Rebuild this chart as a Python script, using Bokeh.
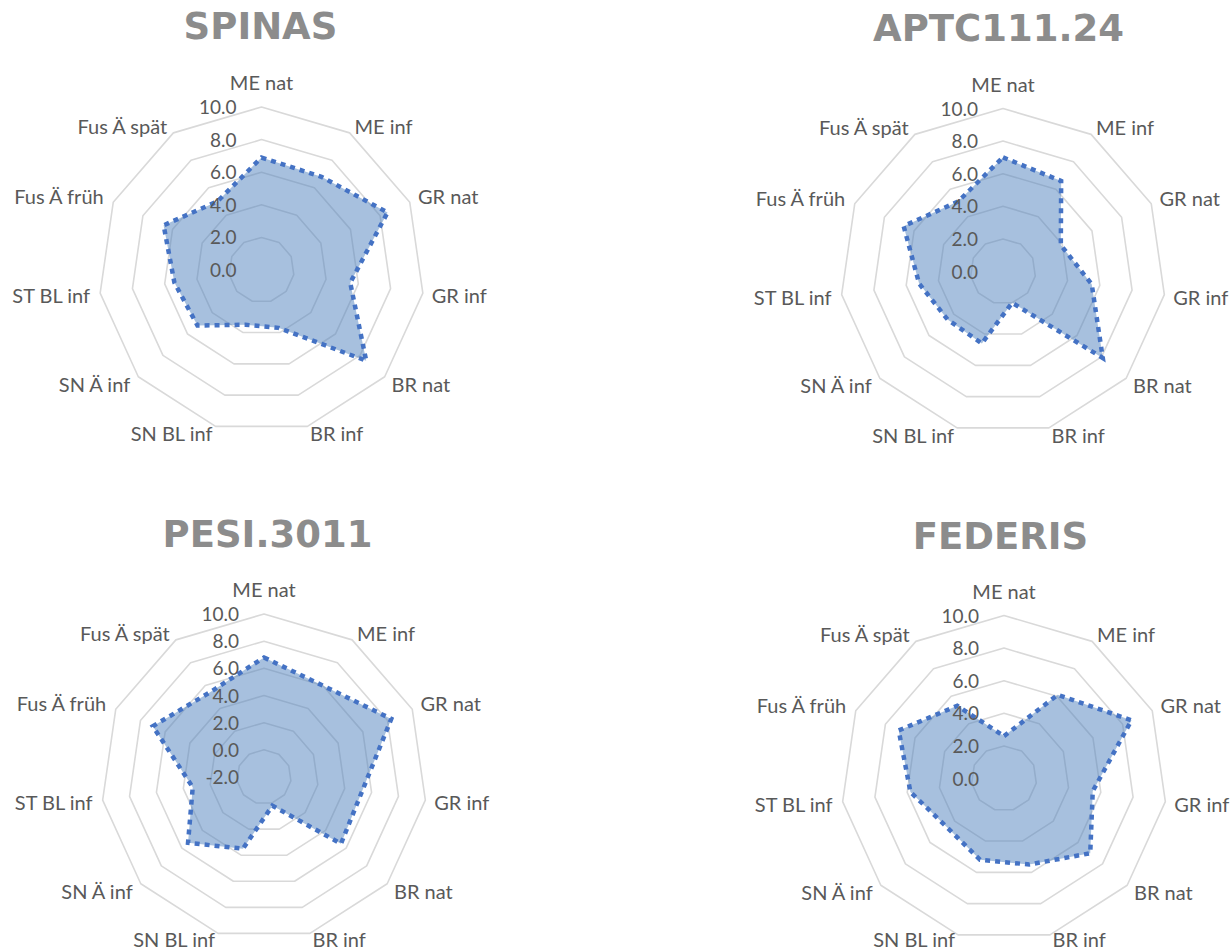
import math
from bokeh.plotting import figure
from bokeh.models import Range1d, ColumnDataSource
from bokeh.embed import file_html
from bokeh.resources import INLINE
from bokeh.core.properties import value

# ---------------- data ----------------
categories = ["ME nat", "ME inf", "GR nat", "GR inf", "BR nat", "BR inf",
              "SN BL inf", "SN Ä inf", "ST BL inf", "Fus Ä früh", "Fus Ä spät"]

titles = ["SPINAS", "APTC111.24", "PESI.3011", "FEDERIS"]

spinas = [6.9, 6.8, 8.5, 5.5, 8.5, 3.7, 3.5, 5.2, 5.4, 6.6, 5.0]
aptc = [7.0, 6.6, 3.9, 5.5, 8.1, 2.0, 4.6, 4.5, 5.2, 6.7, 5.1]
pesi = [6.8, 6.0, 8.3, 5.3, 5.5, 0.2, 3.5, 5.4, 3.3, 7.0, 5.4]
federis = [2.6, 6.1, 8.6, 5.5, 7.0, 5.5, 5.2, 4.6, 5.8, 7.1, 5.3]

series = [spinas, aptc, pesi, federis]
axis_min = [0.0, 0.0, -2.0, 0.0]
axis_max = [10.0, 10.0, 10.0, 10.0]
axis_step = 2.0

# ---------------- layout (page pixels) ----------------
W, H = 1231, 952
centers = [(261.0, 269.5), (1002.5, 271.0), (263.5, 776.5), (1003.5, 778.0)]
radius = 163.0
title_pos = [(260, 26), (998, 28), (267, 534), (1000, 536)]

GRID = "#d9d9d9"
TXT = "#595959"
TITLE = "#8c8c8c"
LINE = "#4472C4"
FILL = "#4F81BD"
FONT = "Lato"

p = figure(width=W, height=H, x_range=Range1d(0, W), y_range=Range1d(H, 0),
           output_backend="svg", toolbar_location=None,
           x_axis_location=None, y_axis_location=None, min_border=0)
p.outline_line_color = None
p.xgrid.visible = False
p.ygrid.visible = False
p.background_fill_color = "white"

n = len(categories)
angles = [2 * math.pi * i / n for i in range(n)]


def pt(c, r, a):
    return c[0] + r * math.sin(a), c[1] - r * math.cos(a)


for k in range(4):
    c = centers[k]
    vmin, vmax = axis_min[k], axis_max[k]
    span = vmax - vmin

    def rad(v):
        return (v - vmin) / span * radius

    # rings
    ticks = []
    t = vmin
    while t <= vmax + 1e-9:
        ticks.append(round(t, 6))
        t += axis_step
    ring_xs, ring_ys = [], []
    for tv in ticks:
        if tv == vmin:
            continue
        r = rad(tv)
        pts = [pt(c, r, a) for a in angles]
        ring_xs.append([q[0] for q in pts])
        ring_ys.append([q[1] for q in pts])
    p.patches(xs=ring_xs, ys=ring_ys, fill_color=None, line_color=GRID, line_width=1.6)

    # data polygon
    vals = series[k]
    dpts = [pt(c, rad(v), a) for v, a in zip(vals, angles)]
    src = ColumnDataSource(dict(x=[q[0] for q in dpts], y=[q[1] for q in dpts]))
    p.patch(x="x", y="y", source=src, fill_color=FILL, fill_alpha=0.5,
            line_color=LINE, line_width=4.5, line_dash="5 5", line_join="miter")

    # tick labels
    tx = [c[0] - 25] * len(ticks)
    ty = [c[1] - rad(tv) for tv in ticks]
    tl = ["%.1f" % tv for tv in ticks]
    p.text(x=tx, y=ty, text=tl, text_font=value(FONT), text_font_size="19px",
           text_color=TXT, text_align="right", text_baseline="middle")

    # category labels (placed just outside the outer ring vertex)
    groups = {}
    for cat, a in zip(categories, angles):
        sx, cx_ = math.sin(a), math.cos(a)
        vx, vy = pt(c, radius, a)
        if abs(sx) < 0.05:
            key = ("center", "bottom")
            lx, ly = vx, vy - 13
        else:
            key = ("left", "middle") if sx > 0 else ("right", "middle")
            lx = vx + 9 * sx
            ly = vy - 7 * max(-1.0, min(1.0, 2 * cx_))
            ly = min(ly, H - 14)
        groups.setdefault(key, ([], [], []))
        groups[key][0].append(lx)
        groups[key][1].append(ly)
        groups[key][2].append(cat)
    for (al, bl), (gx, gy, gt) in groups.items():
        p.text(x=gx, y=gy, text=gt, text_font=value(FONT), text_font_size="20px",
               text_color=TXT, text_align=al, text_baseline=bl)

    # title
    p.text(x=[title_pos[k][0]], y=[title_pos[k][1]], text=[titles[k]],
           text_font=value("DejaVu Sans"), text_font_style="bold", text_font_size="37px",
           text_color=TITLE, text_align="center", text_baseline="alphabetic")

open("out.html", "w").write(file_html(p, INLINE))
